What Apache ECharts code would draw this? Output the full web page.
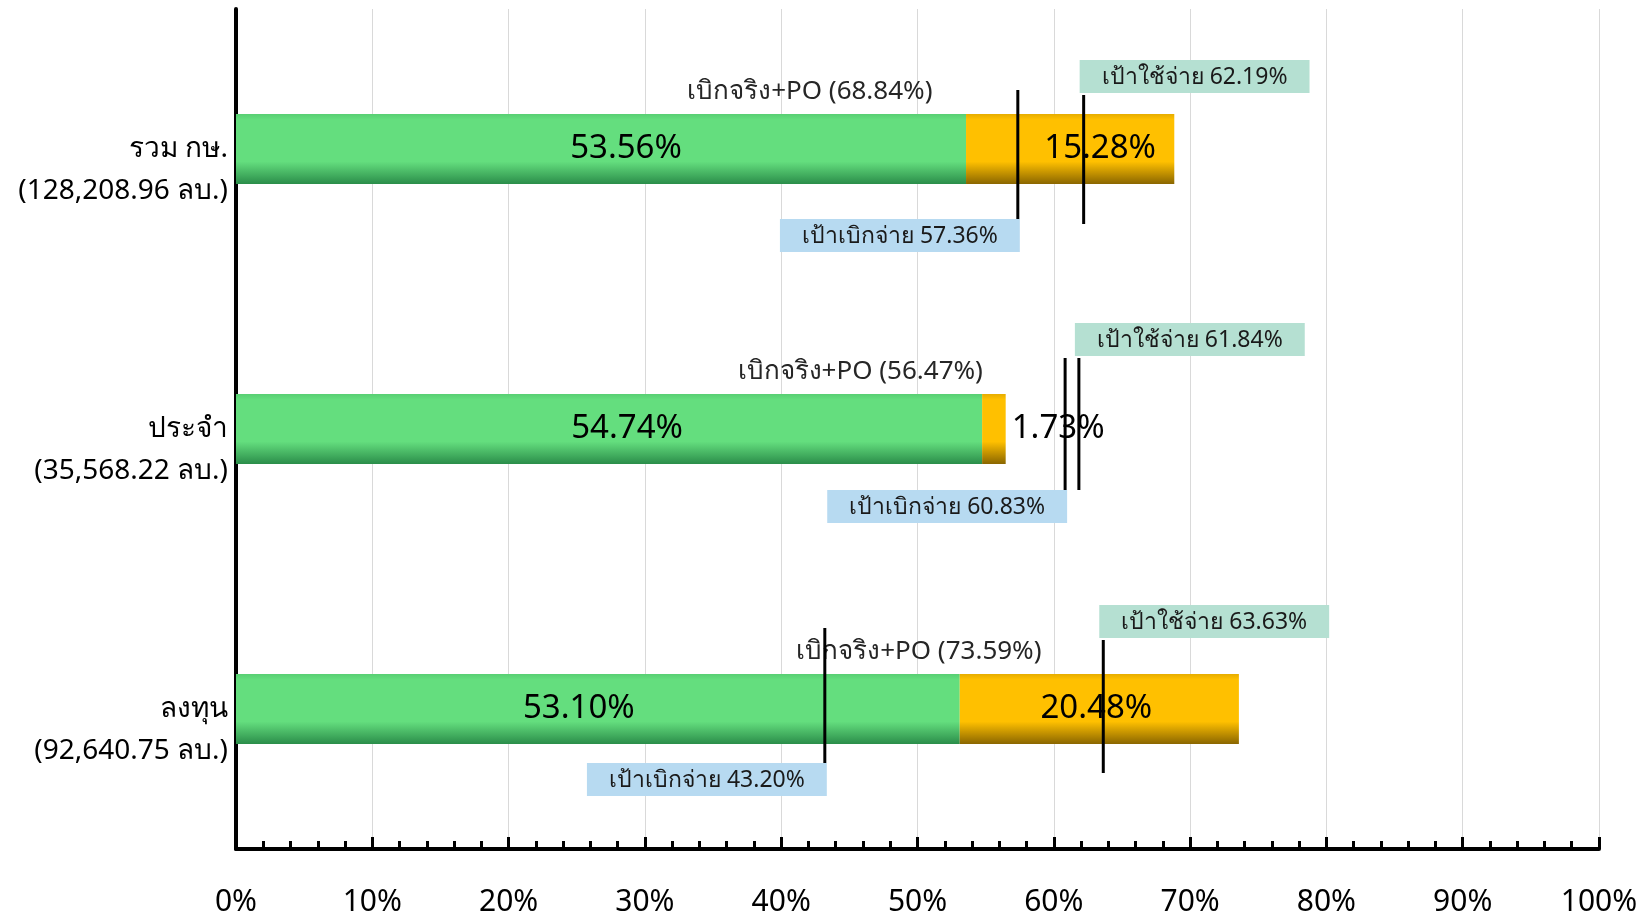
<!DOCTYPE html>
<html>
<head>
<meta charset="utf-8">
<script src="https://cdn.jsdelivr.net/npm/echarts@6/dist/echarts.min.js"></script>
<style>
  html, body { margin: 0; padding: 0; background: #fff; }
  #chart { width: 1644px; height: 917px; }
</style>
</head>
<body>
<div id="chart"></div>
<script>
// ข้อมูลแต่ละหมวด (บนลงล่าง)
const categories = ['รวม กษ.', 'ประจำ', 'ลงทุน'];
const budgets = ['128,208.96', '35,568.22', '92,640.75'];
const actualPaid = [53.56, 54.74, 53.10];    // เบิกจริง
const poAmount = [15.28, 1.73, 20.48];       // PO
const poTotal = [68.84, 56.47, 73.59];       // เบิกจริง+PO
const disburseTarget = [57.36, 60.83, 43.20]; // เป้าเบิกจ่าย
const spendTarget = [62.19, 61.84, 63.63];    // เป้าใช้จ่าย
const xTicks = [0, 10, 20, 30, 40, 50, 60, 70, 80, 90, 100];

// ตำแหน่งวางป้าย (ไม่ใช่ข้อมูล)
const poLabelAt = [42.1, 45.8, 50.1];        // กึ่งกลางป้าย เบิกจริง+PO (หน่วย %)
const paidLabelShift = [25, 18, -19];        // เลื่อนป้ายในแท่งเขียว (px)
const poLabelShift = [30, 0, -3];            // เลื่อนป้ายในแท่งส้ม (px)
const disburseSpan = [[-59, 70], [-71, 61], [-81, 54]]; // ช่วงเส้นเป้าเบิกจ่าย เทียบกลางแท่ง (px)
const spendSpan = [[-54, 75], [-71, 61], [-69, 64]];    // ช่วงเส้นเป้าใช้จ่าย

const FONT = "Tahoma, 'Noto Sans', 'DejaVu Sans', sans-serif";

let chart = echarts.init(document.getElementById('chart'));

const gradient = (top, mid, bottom) => new echarts.graphic.LinearGradient(0, 0, 0, 1, [
  { offset: 0, color: top },
  { offset: 0.08, color: mid },
  { offset: 0.68, color: mid },
  { offset: 1, color: bottom }
]);

// เส้นเป้าหมาย + กล่องข้อความ
const targetRender = (kind) => function (params, api) {
  let p = api.coord([api.value(0), api.value(1)]);
  let val = api.value(0).toFixed(2) + '%';
  let isSpend = kind === 'spend';
  let span = (isSpend ? spendSpan : disburseSpan)[params.dataIndex];
  let top = p[1] + span[0];
  let bottom = p[1] + span[1];
  return {
    type: 'group',
    children: [
      {
        type: 'line',
        shape: { x1: p[0], y1: top, x2: p[0], y2: bottom },
        style: { stroke: '#000', lineWidth: 3 }
      },
      {
        type: 'text',
        x: isSpend ? p[0] - 4 : p[0] + 2,
        y: isSpend ? top - 2 : bottom,
        style: {
          text: (isSpend ? 'เป้าใช้จ่าย ' : 'เป้าเบิกจ่าย ') + val,
          font: '23px ' + FONT,
          fill: '#1a1a1a',
          align: isSpend ? 'left' : 'right',
          verticalAlign: isSpend ? 'bottom' : 'top',
          backgroundColor: isSpend ? '#b5e0d2' : '#b7daf1',
          padding: [6, 22, 4, 22]
        }
      }
    ]
  };
};

let option = {
  animation: false,
  backgroundColor: '#fff',
  grid: { left: 236, right: 45, top: 9, bottom: 62 },
  xAxis: {
    type: 'value',
    min: xTicks[0],
    max: xTicks[xTicks.length - 1],
    interval: 10,
    axisLine: { show: true, lineStyle: { color: '#000', width: 4 } },
    axisTick: { show: true, inside: true, length: 12, lineStyle: { color: '#000', width: 3 } },
    minorTick: { show: true, splitNumber: 5, length: 8, lineStyle: { color: '#000', width: 3 } },
    splitLine: { show: true, lineStyle: { color: '#d9d9d9', width: 1 } },
    axisLabel: {
      formatter: '{value}%',
      color: '#000',
      fontSize: 30,
      fontFamily: FONT,
      margin: 38
    }
  },
  yAxis: {
    type: 'category',
    inverse: true,
    data: categories,
    axisLine: { show: true, lineStyle: { color: '#000', width: 4 } },
    axisTick: { show: false },
    axisLabel: {
      color: '#000',
      fontSize: 28,
      fontFamily: FONT,
      lineHeight: 42,
      align: 'right',
      margin: 8,
      formatter: (v, i) => '\n' + v + '\n(' + budgets[i] + ' ลบ.)'
    }
  },
  series: [
    {
      name: 'เบิกจริง',
      type: 'bar',
      stack: 'total',
      barWidth: '25%',
      data: actualPaid.map((v, i) => ({
        value: v,
        label: { offset: [paidLabelShift[i], 0] }
      })),
      itemStyle: { color: gradient('#58cf73', '#64de7e', '#2b8d4a') },
      label: {
        show: true,
        position: 'inside',
        color: '#000',
        fontSize: 33,
        fontFamily: FONT,
        formatter: (p) => p.value.toFixed(2) + '%'
      },
      z: 2
    },
    {
      name: 'PO',
      type: 'bar',
      stack: 'total',
      barWidth: '25%',
      data: poAmount.map((v, i) => ({
        value: v,
        label: v < 5 ? { position: 'right', distance: 6 } : { offset: [poLabelShift[i], 0] }
      })),
      itemStyle: { color: gradient('#e6ad00', '#ffc000', '#8a6600') },
      label: {
        show: true,
        position: 'inside',
        color: '#000',
        fontSize: 33,
        fontFamily: FONT,
        formatter: (p) => p.value.toFixed(2) + '%'
      },
      z: 2
    },
    {
      name: 'เบิกจริง+PO',
      type: 'custom',
      data: poLabelAt.map((x, i) => [x, i, poTotal[i]]),
      encode: { x: 0, y: 1 },
      renderItem: function (params, api) {
        let p = api.coord([api.value(0), api.value(1)]);
        return {
          type: 'text',
          x: p[0],
          y: p[1] - 57,
          style: {
            text: 'เบิกจริง+PO (' + api.value(2).toFixed(2) + '%)',
            font: '26px ' + FONT,
            fill: '#262626',
            align: 'center',
            verticalAlign: 'middle'
          }
        };
      },
      z: 3
    },
    {
      name: 'เป้าเบิกจ่าย',
      type: 'custom',
      data: disburseTarget.map((v, i) => [v, i]),
      encode: { x: 0, y: 1 },
      renderItem: targetRender('disburse'),
      z: 4
    },
    {
      name: 'เป้าใช้จ่าย',
      type: 'custom',
      data: spendTarget.map((v, i) => [v, i]),
      encode: { x: 0, y: 1 },
      renderItem: targetRender('spend'),
      z: 4
    }
  ]
};

chart.setOption(option);
</script>
</body>
</html>
